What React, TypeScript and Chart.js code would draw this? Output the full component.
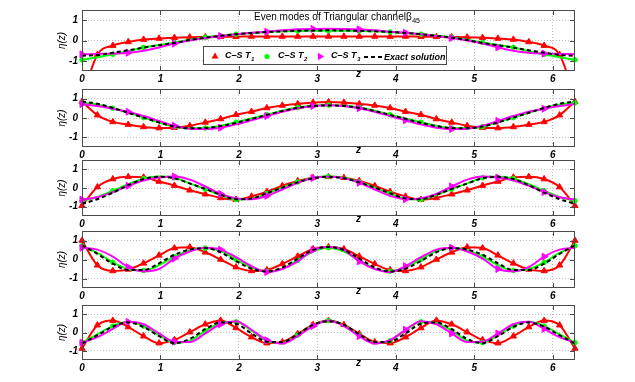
import React, { useEffect, useRef } from 'react';
import { Chart, registerables } from 'chart.js';

Chart.register(...registerables);

// ---------------- data ----------------
const Z = [0, 0.196, 0.393, 0.589, 0.785, 0.982, 1.178, 1.374, 1.571, 1.767, 1.963, 2.16, 2.356, 2.553, 2.749, 2.945, 3.142, 3.338, 3.534, 3.731, 3.927, 4.123, 4.32, 4.516, 4.712, 4.909, 5.105, 5.301, 5.498, 5.694, 5.89, 6.087, 6.283];
const X_MIN = 0;
const X_MAX = 6.2832;
const Y_MIN = -1.5;
const Y_MAX = 1.5;
const X_TICKS = [0, 1, 2, 3, 4, 5, 6];
const Y_TICKS = [-1, 0, 1];

const TITLE_MAIN = 'Even modes of Triangular channel';
const TITLE_GREEK = 'β';
const TITLE_SUB = '45';
const Y_LABEL = 'η(z)';
const X_LABEL = 'z';
const LEGEND_NAMES = ['C–S T', 'C–S T', 'C–S T', 'Exact solution'];
const LEGEND_SUBS = ['1', '2', '3', ''];

// mode 1
const mode1T1 = [-2.8, -0.7, -0.25, -0.07, 0.05, 0.1, 0.14, 0.16, 0.17, 0.18, 0.19, 0.2, 0.2, 0.2, 0.2, 0.2, 0.2, 0.2, 0.2, 0.2, 0.2, 0.2, 0.19, 0.18, 0.17, 0.16, 0.14, 0.1, 0.05, -0.07, -0.25, -0.7, -2.8];
const mode1T2 = [-0.95, -0.82, -0.68, -0.53, -0.34, -0.22, -0.1, 0.04, 0.16, 0.24, 0.31, 0.37, 0.42, 0.45, 0.47, 0.48, 0.48, 0.48, 0.47, 0.45, 0.42, 0.37, 0.31, 0.24, 0.16, 0.04, -0.1, -0.22, -0.34, -0.53, -0.68, -0.82, -0.95];
const mode1T3 = [-0.68, -0.66, -0.64, -0.6, -0.5, -0.34, -0.15, 0.0, 0.12, 0.22, 0.31, 0.38, 0.43, 0.5, 0.55, 0.57, 0.58, 0.57, 0.55, 0.5, 0.43, 0.38, 0.31, 0.22, 0.12, 0.0, -0.15, -0.34, -0.5, -0.6, -0.64, -0.66, -0.68];
const mode1Exact = [-0.75, -0.71, -0.6, -0.48, -0.35, -0.23, -0.12, 0.02, 0.14, 0.23, 0.31, 0.37, 0.42, 0.45, 0.48, 0.49, 0.5, 0.49, 0.48, 0.45, 0.42, 0.37, 0.31, 0.23, 0.14, 0.02, -0.12, -0.23, -0.35, -0.48, -0.6, -0.71, -0.75];

// mode 2
const mode2T1 = [0.85, 0.15, -0.2, -0.34, -0.46, -0.52, -0.5, -0.4, -0.23, -0.05, 0.17, 0.33, 0.52, 0.65, 0.73, 0.8, 0.83, 0.8, 0.73, 0.65, 0.52, 0.33, 0.17, -0.05, -0.23, -0.4, -0.5, -0.52, -0.46, -0.34, -0.2, 0.15, 0.85];
const mode2T2 = [0.78, 0.7, 0.5, 0.27, 0.02, -0.23, -0.45, -0.53, -0.52, -0.4, -0.22, -0.03, 0.17, 0.38, 0.54, 0.63, 0.67, 0.63, 0.54, 0.38, 0.17, -0.03, -0.22, -0.4, -0.52, -0.53, -0.45, -0.23, 0.02, 0.27, 0.5, 0.7, 0.78];
const mode2T3 = [0.72, 0.62, 0.48, 0.32, 0.1, -0.15, -0.4, -0.55, -0.57, -0.5, -0.33, -0.12, 0.1, 0.32, 0.5, 0.62, 0.66, 0.62, 0.5, 0.32, 0.1, -0.12, -0.33, -0.5, -0.57, -0.55, -0.4, -0.15, 0.1, 0.32, 0.48, 0.62, 0.72];
const mode2Exact = [0.85, 0.74, 0.52, 0.27, 0.02, -0.23, -0.44, -0.53, -0.52, -0.42, -0.25, -0.05, 0.16, 0.36, 0.52, 0.62, 0.65, 0.62, 0.52, 0.36, 0.16, -0.05, -0.25, -0.42, -0.52, -0.53, -0.44, -0.23, 0.02, 0.27, 0.52, 0.74, 0.85];

// mode 3
const mode3T1 = [-0.95, 0.05, 0.48, 0.6, 0.57, 0.35, 0.13, -0.12, -0.33, -0.53, -0.62, -0.45, -0.2, 0.12, 0.38, 0.55, 0.6, 0.55, 0.38, 0.12, -0.2, -0.45, -0.62, -0.53, -0.33, -0.12, 0.13, 0.35, 0.57, 0.6, 0.48, 0.05, -0.95];
const mode3T2 = [-0.68, -0.48, -0.15, 0.2, 0.5, 0.62, 0.55, 0.25, -0.06, -0.38, -0.62, -0.58, -0.3, 0.02, 0.32, 0.55, 0.62, 0.55, 0.32, 0.02, -0.3, -0.58, -0.62, -0.38, -0.06, 0.25, 0.55, 0.62, 0.5, 0.2, -0.15, -0.48, -0.68];
const mode3T3 = [-0.62, -0.5, -0.22, 0.12, 0.4, 0.56, 0.62, 0.45, 0.08, -0.32, -0.55, -0.6, -0.42, -0.08, 0.28, 0.53, 0.6, 0.53, 0.28, -0.08, -0.42, -0.6, -0.55, -0.32, 0.08, 0.45, 0.62, 0.56, 0.4, 0.12, -0.22, -0.5, -0.62];
const mode3Exact = [-0.85, -0.6, -0.25, 0.15, 0.48, 0.6, 0.52, 0.24, -0.05, -0.36, -0.6, -0.56, -0.28, 0.02, 0.3, 0.52, 0.6, 0.52, 0.3, 0.02, -0.28, -0.56, -0.6, -0.36, -0.05, 0.24, 0.52, 0.6, 0.48, 0.15, -0.25, -0.6, -0.85];

// mode 4
const mode4T1 = [1.0, -0.3, -0.6, -0.52, -0.2, 0.22, 0.6, 0.65, 0.38, 0.0, -0.4, -0.6, -0.55, -0.23, 0.17, 0.55, 0.66, 0.55, 0.17, -0.23, -0.55, -0.6, -0.4, 0.0, 0.38, 0.65, 0.6, 0.22, -0.2, -0.52, -0.6, -0.3, 1.0];
const mode4T2 = [0.72, 0.35, -0.15, -0.5, -0.58, -0.3, 0.15, 0.48, 0.6, 0.45, 0.0, -0.42, -0.62, -0.48, -0.05, 0.42, 0.62, 0.42, -0.05, -0.48, -0.62, -0.42, 0.0, 0.45, 0.6, 0.48, 0.15, -0.3, -0.58, -0.5, -0.15, 0.35, 0.72];
const mode4T3 = [0.62, 0.52, 0.15, -0.4, -0.62, -0.5, 0.05, 0.42, 0.62, 0.52, 0.12, -0.35, -0.66, -0.5, -0.1, 0.5, 0.66, 0.5, -0.1, -0.5, -0.66, -0.35, 0.12, 0.52, 0.62, 0.42, 0.05, -0.5, -0.62, -0.4, 0.15, 0.52, 0.62];
const mode4Exact = [0.75, 0.3, -0.22, -0.55, -0.55, -0.2, 0.25, 0.52, 0.6, 0.38, -0.08, -0.48, -0.63, -0.42, 0.05, 0.5, 0.66, 0.5, 0.05, -0.42, -0.63, -0.48, -0.08, 0.38, 0.6, 0.52, 0.25, -0.2, -0.55, -0.55, -0.22, 0.3, 0.75];

// mode 5
const mode5T1 = [-0.87, 0.4, 0.65, 0.3, -0.2, -0.58, -0.4, 0.02, 0.45, 0.66, 0.25, -0.25, -0.58, -0.52, -0.07, 0.42, 0.65, 0.42, -0.07, -0.52, -0.58, -0.25, 0.25, 0.66, 0.45, 0.02, -0.4, -0.58, -0.2, 0.3, 0.65, 0.4, -0.87];
const mode5T2 = [-0.55, -0.1, 0.35, 0.58, 0.35, -0.15, -0.55, -0.45, 0.1, 0.5, 0.58, 0.1, -0.45, -0.58, -0.15, 0.38, 0.65, 0.38, -0.15, -0.58, -0.45, 0.1, 0.58, 0.5, 0.1, -0.45, -0.55, -0.15, 0.35, 0.58, 0.35, -0.1, -0.55];
const mode5T3 = [-0.55, -0.25, 0.2, 0.58, 0.45, -0.05, -0.5, -0.52, -0.05, 0.45, 0.62, 0.15, -0.42, -0.6, -0.2, 0.35, 0.65, 0.35, -0.2, -0.6, -0.42, 0.15, 0.62, 0.45, -0.05, -0.52, -0.5, -0.05, 0.45, 0.58, 0.2, -0.25, -0.55];
const mode5Exact = [-0.6, -0.15, 0.32, 0.55, 0.3, -0.2, -0.58, -0.35, 0.18, 0.55, 0.48, -0.05, -0.5, -0.52, -0.1, 0.42, 0.62, 0.42, -0.1, -0.52, -0.5, -0.05, 0.48, 0.55, 0.18, -0.35, -0.58, -0.2, 0.3, 0.55, 0.32, -0.15, -0.6];

const MODES = [
  { t1: mode1T1, t2: mode1T2, t3: mode1T3, exact: mode1Exact },
  { t1: mode2T1, t2: mode2T2, t3: mode2T3, exact: mode2Exact },
  { t1: mode3T1, t2: mode3T2, t3: mode3T3, exact: mode3Exact },
  { t1: mode4T1, t2: mode4T2, t3: mode4T3, exact: mode4Exact },
  { t1: mode5T1, t2: mode5T2, t3: mode5T3, exact: mode5Exact },
];

// ---------------- layout / style ----------------
const W = 635;
const H = 382;
const PANEL_TOP = [7, 86, 157, 228, 302];
const PANEL_BOTTOM = [71, 147, 216, 288, 360];
const PLOT_LEFT = 82;
const PLOT_RIGHT = 575;
const PAD_TOP = 7;
const XAXIS_H = 18;
const FONT = '"Liberation Sans", Arial, Helvetica, sans-serif';
const AXIS_COLOR = '#4a4a4a';
const GRID_COLOR = '#bdbdbd';
const RED = '#ff0000';
const GREEN = '#00ff00';
const MAGENTA = '#ff00ff';
const BLACK = '#000000';

function drawUpTriangle(ctx: CanvasRenderingContext2D, x: number, y: number, r: number) {
  ctx.beginPath();
  ctx.moveTo(x, y - r);
  ctx.lineTo(x + r * 0.866, y + r * 0.5);
  ctx.lineTo(x - r * 0.866, y + r * 0.5);
  ctx.closePath();
  ctx.fill();
}
function drawRightTriangle(ctx: CanvasRenderingContext2D, x: number, y: number, r: number) {
  ctx.beginPath();
  ctx.moveTo(x + r, y);
  ctx.lineTo(x - r * 0.5, y + r * 0.866);
  ctx.lineTo(x - r * 0.5, y - r * 0.866);
  ctx.closePath();
  ctx.fill();
}

function Panel({ idx }: { idx: number }) {
  const ref = useRef<HTMLCanvasElement>(null);
  const top = PANEL_TOP[idx];
  const bottom = PANEL_BOTTOM[idx];
  const canvasTop = top - PAD_TOP;
  const h = PAD_TOP + (bottom - top) + XAXIS_H;

  useEffect(() => {
    const m = MODES[idx];
    const pts = (ys: number[]) => Z.map((x, i) => ({ x, y: ys[i] }));
    const tickFont = { family: FONT, size: 10, weight: 'bold' as const, style: 'italic' as const };
    const clip = { left: 8, right: 8, top: 0, bottom: 0 };

    const deco = {
      id: 'deco' + idx,
      afterDraw(chart: any) {
        const { ctx, chartArea: a, scales } = chart;
        ctx.save();
        // box
        ctx.strokeStyle = AXIS_COLOR;
        ctx.lineWidth = 1;
        ctx.strokeRect(a.left + 0.5, a.top + 0.5, a.right - a.left - 1, a.bottom - a.top - 1);
        // inward ticks
        ctx.beginPath();
        for (const v of X_TICKS) {
          const x = Math.round(scales.x.getPixelForValue(v)) + 0.5;
          ctx.moveTo(x, a.bottom);
          ctx.lineTo(x, a.bottom - 5);
          ctx.moveTo(x, a.top);
          ctx.lineTo(x, a.top + 5);
        }
        for (const v of Y_TICKS) {
          const y = Math.round(scales.y.getPixelForValue(v)) + 0.5;
          ctx.moveTo(a.left, y);
          ctx.lineTo(a.left + 5, y);
          ctx.moveTo(a.right, y);
          ctx.lineTo(a.right - 5, y);
        }
        ctx.stroke();
        // axis labels
        ctx.fillStyle = '#000';
        ctx.font = `italic bold 10px ${FONT}`;
        ctx.textAlign = 'center';
        ctx.textBaseline = 'alphabetic';
        ctx.fillText(X_LABEL, (a.left + a.right) / 2 + 30, a.bottom + 5.5);
        ctx.save();
        ctx.translate(62, (a.top + a.bottom) / 2);
        ctx.rotate(-Math.PI / 2);
        ctx.textBaseline = 'middle';
        ctx.font = `italic 10px ${FONT}`;
        ctx.fillText(Y_LABEL, 0, 0);
        ctx.restore();

        if (idx === 0) {
          const oy = -canvasTop;
          // title
          ctx.textAlign = 'left';
          ctx.textBaseline = 'alphabetic';
          ctx.font = `10px ${FONT}`;
          const tx = 254;
          ctx.fillText(TITLE_MAIN + TITLE_GREEK, tx, 19.5 + oy);
          const tw = ctx.measureText(TITLE_MAIN + TITLE_GREEK).width;
          ctx.font = `7px ${FONT}`;
          ctx.fillText(TITLE_SUB, tx + tw + 0.5, 23 + oy);

          // legend
          const lx = 203, ly = 46 + oy, lw = 244, lh = 19;
          ctx.fillStyle = '#fff';
          ctx.fillRect(lx, ly, lw, lh);
          ctx.strokeStyle = AXIS_COLOR;
          ctx.strokeRect(lx + 0.5, ly + 0.5, lw - 1, lh - 1);
          const my = 56.5 + oy;
          ctx.fillStyle = RED;
          drawUpTriangle(ctx, 215, my, 4);
          ctx.fillStyle = GREEN;
          ctx.beginPath();
          ctx.arc(267, my, 2.6, 0, Math.PI * 2);
          ctx.fill();
          ctx.fillStyle = MAGENTA;
          drawRightTriangle(ctx, 320, my, 4.2);
          ctx.strokeStyle = BLACK;
          ctx.lineWidth = 2;
          ctx.setLineDash([4, 3]);
          ctx.beginPath();
          ctx.moveTo(364, my + 0.5);
          ctx.lineTo(382, my + 0.5);
          ctx.stroke();
          ctx.setLineDash([]);
          const textX = [225, 278, 331, 384];
          ctx.fillStyle = '#000';
          for (let i = 0; i < 4; i++) {
            ctx.font = `italic bold 9px ${FONT}`;
            const base = LEGEND_SUBS[i] ? 57.5 : 60;
            ctx.fillText(LEGEND_NAMES[i], textX[i], base + oy);
            if (LEGEND_SUBS[i]) {
              const w = ctx.measureText(LEGEND_NAMES[i]).width;
              ctx.font = `italic bold 6px ${FONT}`;
              ctx.fillText(LEGEND_SUBS[i], textX[i] + w + 0.5, 61 + oy);
            }
          }
        }
        ctx.restore();
      },
    };

    const chart = new Chart(ref.current as HTMLCanvasElement, {
      type: 'line',
      data: {
        datasets: [
          {
            label: 'Exact solution',
            data: pts(m.exact),
            borderColor: BLACK,
            backgroundColor: BLACK,
            borderWidth: 2,
            borderDash: [4, 3],
            pointRadius: 0,
            cubicInterpolationMode: 'monotone',
            clip,
            order: 1,
          },
          {
            label: 'C–S T3',
            data: pts(m.t3),
            borderColor: MAGENTA,
            backgroundColor: MAGENTA,
            borderWidth: 2,
            pointStyle: 'triangle',
            pointRotation: 90,
            pointRadius: (c: any) => (c.dataIndex % 3 === 0 ? 4 : 0),
            pointBorderWidth: 1,
            cubicInterpolationMode: 'monotone',
            clip,
            order: 2,
          },
          {
            label: 'C–S T2',
            data: pts(m.t2),
            borderColor: GREEN,
            backgroundColor: GREEN,
            borderWidth: 2,
            pointStyle: 'circle',
            pointRadius: (c: any) => (c.dataIndex % 2 === 0 ? 2.3 : 0),
            pointBorderWidth: 1,
            cubicInterpolationMode: 'monotone',
            clip,
            order: 3,
          },
          {
            label: 'C–S T1',
            data: pts(m.t1),
            borderColor: RED,
            backgroundColor: RED,
            borderWidth: 2,
            pointStyle: 'triangle',
            pointRadius: 3.6,
            pointBorderWidth: 1,
            cubicInterpolationMode: 'monotone',
            clip,
            order: 4,
          },
        ] as any,
      },
      options: {
        responsive: false,
        maintainAspectRatio: false,
        animation: false,
        events: [],
        layout: { padding: { left: 0, right: W - PLOT_RIGHT, top: PAD_TOP, bottom: 0 } },
        plugins: { legend: { display: false }, tooltip: { enabled: false }, title: { display: false } },
        scales: {
          x: {
            type: 'linear',
            min: X_MIN,
            max: X_MAX,
            afterBuildTicks: (s: any) => {
              s.ticks = X_TICKS.map((v) => ({ value: v }));
            },
            afterFit: (s: any) => {
              s.height = XAXIS_H;
            },
            grid: { color: GRID_COLOR, lineWidth: 1, drawTicks: false },
            border: { display: false, dash: [1, 2] },
            ticks: {
              padding: 2,
              color: '#000',
              font: tickFont,
              maxRotation: 0,
              autoSkip: false,
              callback: (v: any) => String(v),
            },
          },
          y: {
            type: 'linear',
            min: Y_MIN,
            max: Y_MAX,
            afterBuildTicks: (s: any) => {
              s.ticks = Y_TICKS.map((v) => ({ value: v }));
            },
            afterFit: (s: any) => {
              s.width = PLOT_LEFT;
            },
            grid: { color: GRID_COLOR, lineWidth: 1, drawTicks: false },
            border: { display: false, dash: [1, 2] },
            ticks: {
              padding: 4,
              color: '#000',
              font: tickFont,
              callback: (v: any) => String(v),
            },
          },
        },
      } as any,
      plugins: [deco],
    });
    return () => chart.destroy();
  }, [idx]);

  return (
    <canvas
      ref={ref}
      width={W}
      height={h}
      style={{ position: 'absolute', left: 0, top: canvasTop, width: W, height: h }}
    />
  );
}

export default function App() {
  return (
    <div style={{ position: 'fixed', left: 0, top: 0, width: W, height: H, background: '#fff', overflow: 'hidden' }}>
      {MODES.map((_, i) => (
        <Panel key={i} idx={i} />
      ))}
    </div>
  );
}
